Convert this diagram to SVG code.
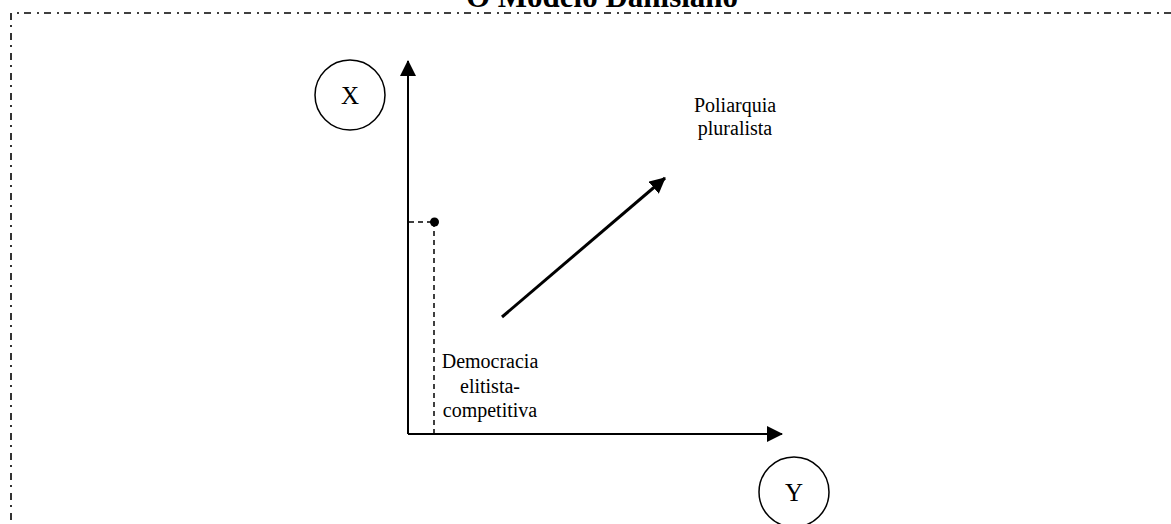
<svg xmlns="http://www.w3.org/2000/svg" width="1171" height="524" viewBox="0 0 1171 524">
<style>
text{font-family:"Liberation Serif","Times New Roman",serif;fill:#000}
.lbl{font-size:20px}
.nl{font-size:25px}
.ax{stroke:#000;stroke-width:2;fill:none}
.circ{fill:#fff;stroke:#000;stroke-width:1.5}
</style>
<defs>
<marker id="ah2" markerWidth="16" markerHeight="16" refX="15" refY="8" orient="auto" markerUnits="userSpaceOnUse" viewBox="0 0 16 16">
<path d="M0,0 L16,8 L0,16 Z" fill="#000"/>
</marker>
</defs>
<rect width="1171" height="524" fill="#fff"/>
<g id="frame">
<path d="M11,560 L11,13 L1200,13" fill="none" stroke="#000" stroke-width="1.6" stroke-dasharray="7,6,2,5"/>
</g>
<text id="title" x="602" y="7" text-anchor="middle" font-size="31" font-weight="bold">O Modelo Dahlsiano</text>
<g id="connectors">
<line class="ax" x1="408" y1="434" x2="408" y2="61" marker-end="url(#ah2)"/>
<line class="ax" x1="408" y1="434" x2="782" y2="434" marker-end="url(#ah2)"/>
<line x1="502" y1="317" x2="665" y2="178" stroke="#000" stroke-width="3" marker-end="url(#ah2)"/>
<line x1="409" y1="222" x2="434" y2="222" stroke="#000" stroke-width="1.5" stroke-dasharray="5,4"/>
<line x1="434" y1="222" x2="434" y2="433" stroke="#000" stroke-width="1.5" stroke-dasharray="5,4"/>
</g>
<g id="point"><circle cx="434.5" cy="222" r="4.5" fill="#000"/></g>
<g id="nodeX">
<circle class="circ" cx="350" cy="95" r="35"/>
<text class="nl" x="350" y="104" text-anchor="middle">X</text>
</g>
<g id="nodeY">
<circle class="circ" cx="794" cy="492" r="35"/>
<text class="nl" x="794" y="501" text-anchor="middle">Y</text>
</g>
<g id="democracia">
<text class="lbl" text-anchor="middle"><tspan x="490" y="368">Democracia</tspan><tspan x="490" y="393">elitista-</tspan><tspan x="490" y="417">competitiva</tspan></text>
</g>
<g id="poliarquia">
<text class="lbl" text-anchor="middle"><tspan x="735" y="112">Poliarquia</tspan><tspan x="735" y="135">pluralista</tspan></text>
</g>
</svg>
